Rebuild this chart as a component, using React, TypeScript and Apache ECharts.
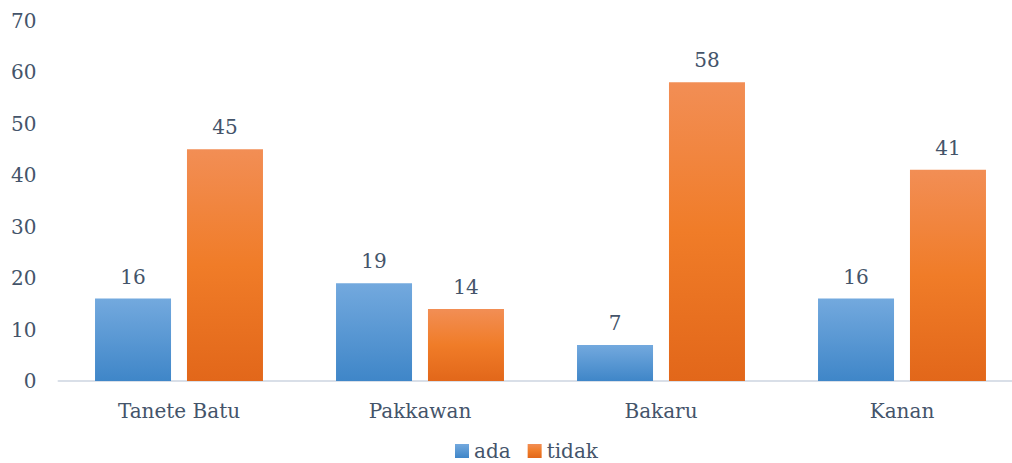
import React, { useEffect, useRef } from "react";
import * as echarts from "echarts";

const categories = ["Tanete Batu", "Pakkawan", "Bakaru", "Kanan"];
const adaValues = [16, 19, 7, 16];
const tidakValues = [45, 14, 58, 41];
const seriesNames = ["ada", "tidak"];

const textColor = "#44546A";
const fontFamily = "'DejaVu Serif', serif";

export default function App() {
  const ref = useRef<HTMLDivElement>(null);
  useEffect(() => {
    document.body.style.margin = "0";
    document.body.style.overflow = "hidden";
    const chart = echarts.init(ref.current!, null, { renderer: "svg" });
    const blue = new echarts.graphic.LinearGradient(0, 0, 0, 1, [
      { offset: 0, color: "#73A9DE" },
      { offset: 1, color: "#3F86C8" },
    ]);
    const orange = new echarts.graphic.LinearGradient(0, 0, 0, 1, [
      { offset: 0, color: "#F28E55" },
      { offset: 0.5, color: "#F07C28" },
      { offset: 1, color: "#E2671A" },
    ]);
    const label = {
      show: true,
      position: "top",
      distance: 12,
      color: textColor,
      fontFamily,
      fontSize: 20,
    };
    chart.setOption({
      animation: false,
      textStyle: { fontFamily, color: textColor },
      grid: { left: 58.5, width: 964, top: 20.5, height: 360.5 },
      legend: {
        data: seriesNames,
        left: 450,
        top: 436,
        itemWidth: 14,
        itemHeight: 14,
        itemGap: 17,
        icon: "rect",
        textStyle: { color: textColor, fontFamily, fontSize: 20 },
      },
      xAxis: {
        type: "category",
        data: categories,
        axisLine: { lineStyle: { color: "#D9DFE8", width: 2 } },
        axisTick: { show: false },
        axisLabel: { color: textColor, fontFamily, fontSize: 20, margin: 20 },
      },
      yAxis: {
        type: "value",
        min: 0,
        max: 70,
        interval: 10,
        splitLine: { show: false },
        axisLine: { show: false },
        axisTick: { show: false },
        axisLabel: { color: textColor, fontFamily, fontSize: 20, margin: 22 },
      },
      series: [
        {
          name: seriesNames[0],
          type: "bar",
          data: adaValues,
          barWidth: 76,
          barGap: "21%",
          itemStyle: { color: blue },
          label,
        },
        {
          name: seriesNames[1],
          type: "bar",
          data: tidakValues,
          barWidth: 76,
          barGap: "21%",
          itemStyle: { color: orange },
          label,
        },
      ],
    });
    return () => chart.dispose();
  }, []);
  return <div ref={ref} style={{ width: 1030, height: 463 }} />;
}
